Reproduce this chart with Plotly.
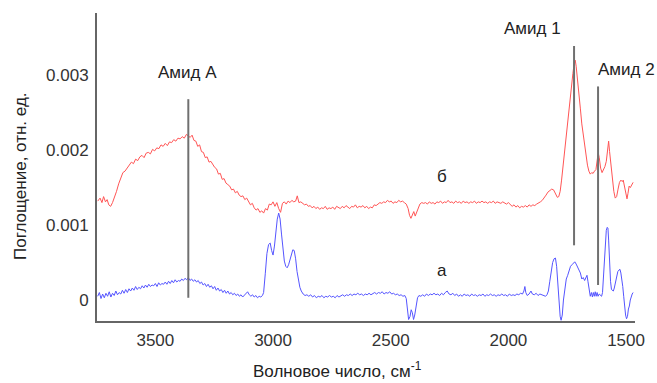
import plotly.graph_objects as go

# ---------------- data (absorbance values in units of 1e-3) ----------------
red_wn = [3745, 3735, 3727, 3720, 3712, 3705, 3698, 3690, 3682, 3674, 3665, 3656, 3647, 3638, 3629, 3620, 3611, 3602, 3593, 3584,
          3575, 3566, 3557, 3548, 3539, 3530, 3521, 3512, 3503, 3494, 3485, 3476, 3467, 3458, 3449, 3440, 3431, 3422, 3413, 3404,
          3395, 3386, 3377, 3368, 3360, 3352, 3344, 3336, 3328, 3320, 3312, 3304, 3296, 3288, 3280, 3272, 3264, 3256, 3248, 3240,
          3232, 3224, 3216, 3208, 3200, 3192, 3184, 3176, 3168, 3160, 3152, 3144, 3136, 3128, 3120, 3112, 3104, 3096, 3088, 3080,
          3072, 3064, 3056, 3048, 3040, 3032, 3024, 3016, 3008, 3000, 2992, 2984, 2976, 2968, 2960, 2952, 2944, 2936, 2928, 2920,
          2912, 2904, 2897, 2890, 2882, 2874, 2866, 2858, 2850, 2842, 2834, 2826, 2818, 2810, 2802, 2794, 2786, 2778, 2770, 2762,
          2754, 2746, 2738, 2730, 2722, 2714, 2706, 2698, 2690, 2682, 2674, 2666, 2658, 2650, 2642, 2634, 2626, 2618, 2610, 2602,
          2594, 2586, 2578, 2570, 2562, 2554, 2546, 2538, 2530, 2522, 2514, 2506, 2498, 2490, 2482, 2474, 2466, 2458, 2450, 2442,
          2434, 2426, 2420, 2414, 2408, 2402, 2396, 2390, 2384, 2376, 2368, 2360, 2352, 2344, 2336, 2328, 2320, 2312, 2304, 2296,
          2288, 2280, 2272, 2264, 2256, 2248, 2240, 2232, 2224, 2216, 2208, 2200, 2192, 2184, 2176, 2168, 2160, 2152, 2144, 2136,
          2128, 2120, 2112, 2104, 2096, 2088, 2080, 2072, 2064, 2056, 2048, 2040, 2032, 2024, 2016, 2008, 2000, 1992, 1984, 1976,
          1968, 1960, 1952, 1944, 1936, 1928, 1920, 1912, 1904, 1896, 1888, 1880, 1872, 1864, 1856, 1848, 1840, 1832, 1824, 1816,
          1808, 1800, 1792, 1786, 1780, 1774, 1768, 1762, 1756, 1750, 1744, 1738, 1732, 1726, 1720, 1716, 1712, 1706, 1700, 1694,
          1688, 1682, 1676, 1670, 1664, 1658, 1652, 1646, 1640, 1634, 1628, 1622, 1618, 1614, 1608, 1602, 1596, 1590, 1584, 1578,
          1574, 1570, 1564, 1558, 1552, 1546, 1540, 1534, 1528, 1522, 1516, 1512, 1506, 1500, 1496, 1492, 1487, 1482, 1476, 1470]
red_abs = [1.32, 1.36, 1.30, 1.38, 1.31, 1.34, 1.27, 1.25, 1.30, 1.36, 1.45, 1.55, 1.63, 1.70, 1.72, 1.76, 1.79, 1.84, 1.82, 1.88,
           1.86, 1.91, 1.93, 1.90, 1.96, 1.97, 1.95, 2.01, 1.99, 2.03, 2.02, 2.07, 2.05, 2.09, 2.06, 2.11, 2.10, 2.14, 2.12, 2.16,
           2.15, 2.18, 2.16, 2.21, 2.19, 2.17, 2.20, 2.13, 2.12, 2.05, 2.07, 1.98, 1.97, 1.90, 1.91, 1.84, 1.85, 1.80, 1.77, 1.75,
           1.68, 1.69, 1.61, 1.62, 1.56, 1.54, 1.52, 1.47, 1.48, 1.43, 1.45, 1.40, 1.38, 1.39, 1.34, 1.36, 1.31, 1.27, 1.29, 1.23,
           1.20, 1.22, 1.17, 1.19, 1.16, 1.22, 1.20, 1.28, 1.27, 1.31, 1.25, 1.30, 1.22, 1.17, 1.29, 1.31, 1.28, 1.32, 1.30, 1.33,
           1.31, 1.32, 1.39, 1.30, 1.31, 1.29, 1.27, 1.28, 1.25, 1.26, 1.23, 1.25, 1.22, 1.24, 1.21, 1.23, 1.22, 1.25, 1.21, 1.23,
           1.22, 1.24, 1.21, 1.25, 1.23, 1.22, 1.25, 1.23, 1.26, 1.24, 1.22, 1.25, 1.24, 1.27, 1.23, 1.25, 1.24, 1.26, 1.23, 1.25,
           1.22, 1.24, 1.23, 1.27, 1.26, 1.28, 1.30, 1.29, 1.31, 1.30, 1.33, 1.31, 1.32, 1.29, 1.31, 1.30, 1.33, 1.31, 1.32, 1.30,
           1.28, 1.22, 1.13, 1.09, 1.15, 1.18, 1.12, 1.17, 1.24, 1.28, 1.30, 1.29, 1.30, 1.28, 1.31, 1.29, 1.30, 1.28, 1.31, 1.30,
           1.32, 1.29, 1.31, 1.30, 1.33, 1.30, 1.31, 1.29, 1.32, 1.30, 1.31, 1.29, 1.32, 1.30, 1.31, 1.29, 1.31, 1.30, 1.32, 1.29,
           1.31, 1.30, 1.32, 1.30, 1.31, 1.29, 1.31, 1.30, 1.32, 1.29, 1.31, 1.30, 1.29, 1.31, 1.30, 1.28, 1.30, 1.27, 1.25, 1.27,
           1.24, 1.26, 1.23, 1.25, 1.24, 1.26, 1.24, 1.27, 1.25, 1.27, 1.26, 1.28, 1.29, 1.31, 1.33, 1.36, 1.40, 1.44, 1.46, 1.48,
           1.47, 1.42, 1.37, 1.38, 1.45, 1.60, 1.78, 1.95, 2.15, 2.35, 2.55, 2.70, 2.85, 3.02, 3.17, 3.20, 3.12, 2.95, 2.75, 2.55,
           2.35, 2.20, 2.06, 1.92, 1.80, 1.72, 1.68, 1.70, 1.69, 1.72, 1.74, 1.88, 1.96, 1.90, 1.76, 1.70, 1.74, 1.78, 1.85, 2.08,
           2.12, 1.98, 1.80, 1.62, 1.45, 1.36, 1.38, 1.48, 1.57, 1.60, 1.58, 1.60, 1.50, 1.38, 1.35, 1.42, 1.52, 1.50, 1.54, 1.57]

blue_wn = [3745, 3738, 3731, 3724, 3717, 3710, 3703, 3696, 3689, 3682, 3675, 3668, 3661, 3654, 3647, 3640, 3633, 3626, 3619, 3612,
           3605, 3598, 3591, 3584, 3577, 3570, 3563, 3556, 3549, 3542, 3535, 3528, 3521, 3514, 3507, 3500, 3493, 3486, 3479, 3472,
           3465, 3458, 3451, 3444, 3437, 3430, 3423, 3416, 3409, 3402, 3395, 3388, 3381, 3374, 3367, 3360, 3353, 3346, 3339, 3332,
           3325, 3318, 3311, 3304, 3297, 3290, 3283, 3276, 3269, 3262, 3255, 3248, 3241, 3234, 3227, 3220, 3213, 3206, 3199, 3192,
           3185, 3178, 3171, 3164, 3157, 3150, 3143, 3136, 3129, 3122, 3115, 3108, 3101, 3094, 3087, 3080, 3073, 3066, 3059, 3052,
           3045, 3040, 3033, 3026, 3019, 3012, 3006, 3000, 2994, 2988, 2982, 2976, 2970, 2964, 2958, 2952, 2946, 2940, 2934, 2928,
           2922, 2916, 2910, 2904, 2898, 2892, 2886, 2880, 2872, 2864, 2856, 2848, 2840, 2832, 2824, 2816, 2808, 2800, 2792, 2784,
           2776, 2768, 2760, 2752, 2744, 2736, 2728, 2720, 2712, 2704, 2696, 2688, 2680, 2672, 2664, 2656, 2648, 2640, 2632, 2624,
           2616, 2608, 2600, 2592, 2584, 2576, 2568, 2560, 2552, 2544, 2536, 2528, 2520, 2512, 2504, 2496, 2488, 2480, 2472, 2464,
           2456, 2448, 2440, 2434, 2429, 2424, 2418, 2413, 2408, 2403, 2398, 2392, 2386, 2380, 2372, 2364, 2356, 2348, 2340, 2332,
           2324, 2316, 2308, 2300, 2292, 2284, 2276, 2268, 2260, 2252, 2244, 2236, 2228, 2220, 2212, 2204, 2196, 2188, 2180, 2172,
           2164, 2156, 2148, 2140, 2132, 2124, 2116, 2108, 2100, 2092, 2084, 2076, 2068, 2060, 2052, 2044, 2036, 2028, 2020, 2012,
           2004, 1996, 1988, 1980, 1972, 1964, 1956, 1948, 1940, 1934, 1930, 1926, 1920, 1912, 1904, 1898, 1890, 1882, 1874, 1866,
           1858, 1850, 1842, 1836, 1830, 1824, 1818, 1812, 1806, 1800, 1795, 1790, 1785, 1780, 1776, 1771, 1766, 1760, 1754, 1748,
           1742, 1736, 1730, 1724, 1718, 1712, 1706, 1700, 1694, 1688, 1682, 1676, 1670, 1666, 1662, 1657, 1652, 1647, 1643, 1639,
           1635, 1631, 1627, 1623, 1619, 1614, 1609, 1604, 1600, 1596, 1592, 1588, 1584, 1580, 1577, 1574, 1570, 1566, 1562, 1558,
           1554, 1550, 1545, 1540, 1535, 1530, 1526, 1522, 1518, 1514, 1510, 1506, 1502, 1498, 1494, 1490, 1486, 1482, 1478, 1474,
           1470]
blue_abs = [0.05, 0.10, 0.02, 0.08, 0.03, 0.09, 0.05, 0.11, 0.04, 0.09, 0.06, 0.12, 0.07, 0.10, 0.08, 0.13, 0.09, 0.14, 0.10, 0.15,
            0.12, 0.16, 0.13, 0.18, 0.14, 0.17, 0.15, 0.19, 0.16, 0.20, 0.17, 0.21, 0.18, 0.20, 0.19, 0.22, 0.18, 0.23, 0.20, 0.22,
            0.21, 0.24, 0.21, 0.25, 0.22, 0.26, 0.23, 0.27, 0.24, 0.26, 0.25, 0.28, 0.26, 0.29, 0.27, 0.30, 0.26, 0.28, 0.25, 0.27,
            0.24, 0.26, 0.22, 0.24, 0.20, 0.22, 0.18, 0.21, 0.17, 0.19, 0.15, 0.18, 0.13, 0.16, 0.12, 0.14, 0.10, 0.13, 0.09, 0.12,
            0.08, 0.10, 0.07, 0.09, 0.06, 0.08, 0.05, 0.07, 0.04, 0.06, 0.08, 0.11, 0.07, 0.05, 0.07, 0.04, 0.06, 0.03, 0.05, 0.04,
            0.06, 0.10, 0.35, 0.62, 0.74, 0.76, 0.66, 0.60, 0.72, 0.92, 1.08, 1.16, 1.08, 0.88, 0.66, 0.52, 0.45, 0.43, 0.47, 0.54,
            0.62, 0.67, 0.66, 0.55, 0.38, 0.25, 0.17, 0.12, 0.08, 0.06, 0.07, 0.05, 0.07, 0.04, 0.06, 0.03, 0.05, 0.04, 0.06, 0.03,
            0.05, 0.04, 0.06, 0.04, 0.05, 0.03, 0.06, 0.04, 0.05, 0.07, 0.05, 0.07, 0.06, 0.08, 0.06, 0.08, 0.07, 0.09, 0.07, 0.08,
            0.06, 0.08, 0.07, 0.09, 0.07, 0.08, 0.10, 0.08, 0.10, 0.09, 0.11, 0.08, 0.10, 0.09, 0.11, 0.08, 0.09, 0.07, 0.08, 0.06,
            0.07, 0.05, 0.06, 0.02, -0.15, -0.26, -0.22, -0.13, -0.17, -0.26, -0.20, -0.06, 0.03, 0.06, 0.05, 0.07, 0.05, 0.08, 0.06, 0.08,
            0.07, 0.09, 0.07, 0.08, 0.06, 0.09, 0.07, 0.10, 0.12, 0.08, 0.07, 0.09, 0.06, 0.08, 0.05, 0.07, 0.05, 0.08, 0.06, 0.07,
            0.05, 0.08, 0.06, 0.07, 0.05, 0.07, 0.06, 0.08, 0.05, 0.07, 0.06, 0.08, 0.06, 0.07, 0.05, 0.07, 0.06, 0.08, 0.06, 0.07,
            0.05, 0.08, 0.06, 0.07, 0.06, 0.08, 0.07, 0.09, 0.08, 0.12, 0.18, 0.10, 0.06, 0.08, 0.12, 0.08, 0.07, 0.09, 0.06, 0.08,
            0.07, 0.06, 0.05, 0.07, 0.12, 0.25, 0.40, 0.50, 0.55, 0.56, 0.45, 0.20, -0.05, -0.22, -0.27, -0.20, 0.00, 0.18, 0.28, 0.33,
            0.40, 0.45, 0.47, 0.49, 0.51, 0.48, 0.44, 0.40, 0.36, 0.28, 0.30, 0.26, 0.30, 0.33, 0.25, 0.12, 0.05, 0.10, 0.04, 0.10,
            0.05, 0.11, 0.05, 0.10, 0.05, 0.08, 0.06, 0.05, 0.10, 0.30, 0.55, 0.78, 0.93, 0.97, 0.96, 0.80, 0.50, 0.25, 0.14, 0.13,
            0.12, 0.16, 0.25, 0.33, 0.38, 0.40, 0.41, 0.36, 0.28, 0.18, 0.05, -0.10, -0.20, -0.25, -0.22, -0.12, -0.08, 0.00, 0.05, 0.08,
            0.10]

# band marker lines: position (cm-1), bottom and top (units of 1e-3)
band_wn = [3360, 1721, 1619]
band_bottom = [0.03, 0.73, 0.20]
band_top = [2.68, 3.39, 2.85]
band_labels = ["Амид А", "Амид 1", "Амид 2"]
band_label_wn = [3364, 1899, 1500]
band_label_y = [3.04, 3.62, 3.07]

curve_labels = ["б", "а"]
curve_label_wn = [2281, 2281]
curve_label_y = [1.65, 0.40]

y_tick_vals = [0, 1, 2, 3]
y_tick_text = ["0", "0.001", "0.002", "0.003"]
x_tick_vals = [3500, 3000, 2500, 2000, 1500]

SCALE = 1e-3
FONT = "Liberation Sans, Arial, sans-serif"
FS = 17

fig = go.Figure()
fig.add_trace(go.Scatter(x=red_wn, y=[v * SCALE for v in red_abs], mode="lines",
                         line=dict(color="#ff5555", width=1), showlegend=False))
fig.add_trace(go.Scatter(x=blue_wn, y=[v * SCALE for v in blue_abs], mode="lines",
                         line=dict(color="#5555ff", width=1), showlegend=False))
for wn, b, t in zip(band_wn, band_bottom, band_top):
    fig.add_trace(go.Scatter(x=[wn, wn], y=[b * SCALE, t * SCALE], mode="lines",
                             line=dict(color="#707070", width=2), showlegend=False))

for txt, wx, wy in zip(band_labels + curve_labels, band_label_wn + curve_label_wn, band_label_y + curve_label_y):
    fig.add_annotation(x=wx, y=wy * SCALE, text=txt, showarrow=False,
                       xanchor="center", yanchor="middle",
                       font=dict(family=FONT, size=FS, color="#222222"))

# axis titles, positioned by pixel centre in the figure
W, H = 657, 383
L, R, T, B = 97, 22, 13, 62
pw, ph = W - L - R, H - T - B
titles = [("Поглощение, отн. ед.", 20, 176, -90),
          ("Волновое число, см<sup>-1</sup>", 337, 370, 0)]
for txt, px, py, ang in titles:
    fig.add_annotation(x=(px - L) / pw, y=1 - (py - T) / ph, xref="paper", yref="paper",
                       text=txt, textangle=ang, showarrow=False,
                       xanchor="center", yanchor="middle",
                       font=dict(family=FONT, size=FS, color="#222222"))

fig.update_layout(
    width=W, height=H, margin=dict(l=L, r=R, t=T, b=B),
    plot_bgcolor="white", paper_bgcolor="white",
    font=dict(family=FONT, size=FS, color="#333333"),
    xaxis=dict(range=[3748, 1462], tickvals=x_tick_vals, showgrid=False, zeroline=False,
               showline=True, linecolor="#666666", linewidth=2, ticks="", ticklabelstandoff=3),
    yaxis=dict(range=[-0.28 * SCALE, 3.83 * SCALE], tickvals=[v * SCALE for v in y_tick_vals],
               ticktext=y_tick_text, showgrid=False, zeroline=False,
               showline=True, linecolor="#666666", linewidth=2, ticks="", ticklabelstandoff=3),
)
fig.write_html("out.html")
